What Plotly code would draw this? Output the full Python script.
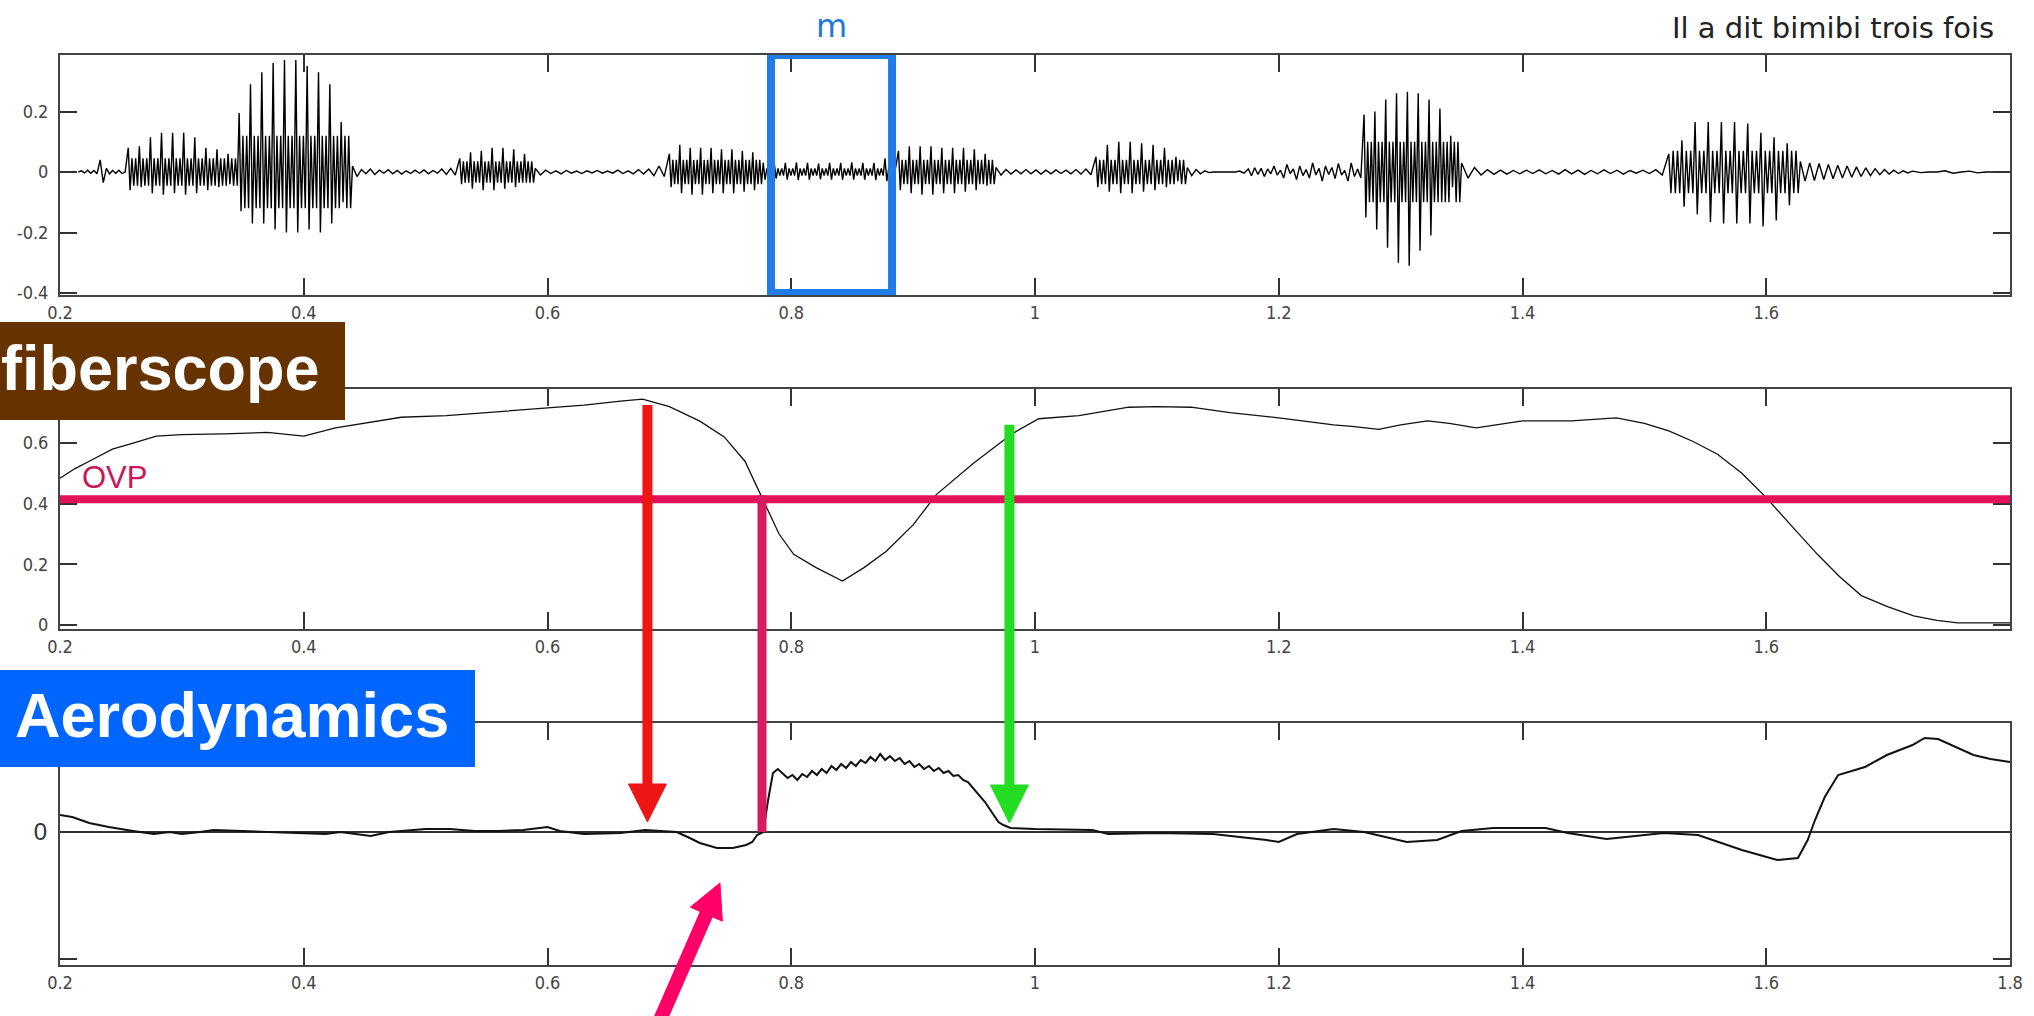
import numpy as np
import plotly.graph_objects as go

W, H = 2034, 1016

# ---------------- DATA ----------------
# Top panel: speech waveform "Il a dit bimibi trois fois" (time in s, amplitude)
# Each voiced burst: time span, positive pitch-pulse peaks, negative peaks, inner band amplitude
wave_quiet_0 = dict(t0=0.215, t1=0.256, vals=[0.0, 0.004, -0.003, 0.006, -0.004, 0.005, -0.006, 0.04,
                                             -0.035, 0.012, -0.006, 0.005, -0.004, 0.006, -0.005, 0.0])
wave_bi_1 = dict(t0=0.256, t1=0.347, pos=[0.08, 0.085, 0.115, 0.13, 0.13, 0.13, 0.115, 0.08, 0.075, 0.06],
                 neg=[-0.06, -0.05, -0.07, -0.075, -0.07, -0.075, -0.07, -0.06, -0.05, -0.04], inner=0.045)
wave_bi_2 = dict(t0=0.347, t1=0.44, pos=[0.195, 0.29, 0.33, 0.36, 0.37, 0.37, 0.35, 0.33, 0.29, 0.165],
                 neg=[-0.13, -0.17, -0.17, -0.19, -0.2, -0.2, -0.19, -0.2, -0.17, -0.1], inner=0.12)
wave_quiet_1 = dict(t0=0.44, t1=0.528, vals=[0.02, -0.015, 0.008, -0.006, 0.01, -0.008, 0.006, -0.004, 0.008,
                                            -0.006, 0.005, -0.007, 0.004, -0.005, 0.006, -0.004, 0.007, -0.006,
                                            0.005, -0.004, 0.01, -0.008, 0.012, -0.01])
wave_a = dict(t0=0.528, t1=0.59, pos=[0.045, 0.065, 0.07, 0.08, 0.08, 0.075, 0.06],
              neg=[-0.04, -0.055, -0.06, -0.06, -0.055, -0.05, -0.035], inner=0.035)
wave_quiet_2 = dict(t0=0.59, t1=0.70, vals=[0.012, -0.01, 0.006, -0.005, 0.004, -0.006, 0.005, -0.004, 0.003,
                                           -0.005, 0.004, -0.003, 0.005, -0.004, 0.003, -0.004, 0.006, -0.005,
                                           0.004, -0.006, 0.008, -0.007, 0.01, -0.012, 0.02, -0.015])
wave_dit_i = dict(t0=0.70, t1=0.777, pos=[0.06, 0.09, 0.08, 0.08, 0.08, 0.075, 0.075, 0.07, 0.065],
                  neg=[-0.05, -0.07, -0.075, -0.075, -0.07, -0.07, -0.07, -0.065, -0.06], inner=0.04)
wave_m = dict(t0=0.777, t1=0.886, pos=[0.03, 0.028, 0.03, 0.032, 0.03, 0.028, 0.03, 0.03, 0.032, 0.03, 0.03, 0.045],
              neg=[-0.025, -0.022, -0.025, -0.027, -0.025, -0.024, -0.025, -0.026, -0.025, -0.025, -0.027, -0.03],
              inner=0.012)
wave_mi = dict(t0=0.888, t1=0.968, pos=[0.07, 0.085, 0.085, 0.085, 0.08, 0.08, 0.08, 0.075, 0.06],
               neg=[-0.06, -0.07, -0.075, -0.075, -0.07, -0.07, -0.065, -0.06, -0.045], inner=0.04)
wave_quiet_3 = dict(t0=0.968, t1=1.05, vals=[0.015, -0.01, 0.008, -0.007, 0.007, -0.006, 0.008, -0.006, 0.007,
                                            -0.007, 0.006, -0.006, 0.007, -0.005, 0.006, -0.006, 0.008, -0.007,
                                            0.01, -0.009])
wave_bi_3 = dict(t0=1.05, t1=1.125, pos=[0.05, 0.09, 0.1, 0.1, 0.095, 0.09, 0.08, 0.05],
                 neg=[-0.05, -0.065, -0.07, -0.07, -0.065, -0.06, -0.05, -0.03], inner=0.04)
wave_quiet_4 = dict(t0=1.125, t1=1.175, vals=[0.015, -0.012, 0.008, -0.006, 0.004, -0.002, 0.0, 0.0, 0.0, 0.0,
                                             0.0, 0.0, 0.003, -0.004])
wave_tr = dict(t0=1.175, t1=1.27, vals=[0.01, -0.012, 0.014, -0.008, 0.012, -0.015, 0.01, -0.006, 0.02, -0.01,
                                        0.006, -0.02, 0.025, -0.005, 0.01, -0.025, 0.02, -0.012, 0.008, -0.02,
                                        0.03, -0.01, 0.012, -0.03, 0.02, -0.008, 0.015, -0.022, 0.028, -0.01,
                                        0.005, -0.03, 0.03, -0.015, 0.01, -0.02])
wave_oi = dict(t0=1.27, t1=1.35, pos=[0.19, 0.2, 0.24, 0.26, 0.265, 0.26, 0.24, 0.21, 0.12],
               neg=[-0.15, -0.19, -0.25, -0.3, -0.31, -0.26, -0.21, -0.1, -0.05], inner=0.1)
wave_quiet_5 = dict(t0=1.35, t1=1.52, vals=[0.03, -0.02, 0.015, -0.01, 0.008, -0.008, 0.006, -0.007, 0.005,
                                           -0.006, 0.006, -0.005, 0.007, -0.006, 0.005, -0.007, 0.008, -0.006,
                                           0.006, -0.008, 0.005, -0.006, 0.007, -0.005, 0.006, -0.007, 0.005,
                                           -0.004, 0.006, -0.005, 0.008, -0.01])
wave_fois = dict(t0=1.52, t1=1.628, pos=[0.06, 0.105, 0.165, 0.165, 0.165, 0.165, 0.16, 0.13, 0.115, 0.095],
                 neg=[-0.07, -0.115, -0.14, -0.165, -0.17, -0.17, -0.17, -0.18, -0.16, -0.11], inner=0.07)
wave_tail = dict(t0=1.628, t1=1.72, pos=[0.035, 0.03, 0.028, 0.025, 0.022, 0.02, 0.017, 0.014, 0.011, 0.008,
                                         0.006, 0.004],
                 neg=[-0.03, -0.028, -0.025, -0.022, -0.02, -0.017, -0.015, -0.012, -0.009, -0.007, -0.005,
                      -0.003], inner=None)
wave_quiet_6 = dict(t0=1.72, t1=1.8, vals=[0.003, -0.002, 0.0, 0.0, 0.004, -0.004, 0.0, 0.003, -0.003, 0.0, 0.0, 0.0])

wave_segments = [wave_quiet_0, wave_bi_1, wave_bi_2, wave_quiet_1, wave_a, wave_quiet_2, wave_dit_i, wave_m,
                 wave_mi, wave_quiet_3, wave_bi_3, wave_quiet_4, wave_tr, wave_oi, wave_quiet_5, wave_fois,
                 wave_tail, wave_quiet_6]

# Middle panel: fiberscope (velum opening) trace
fib_t = [0.2, 0.212, 0.224, 0.243, 0.26, 0.279, 0.30, 0.334, 0.37, 0.39, 0.40, 0.426, 0.45, 0.48, 0.517, 0.55,
         0.59, 0.63, 0.66, 0.678, 0.70, 0.725, 0.745, 0.762, 0.776, 0.79, 0.802, 0.82, 0.842, 0.86, 0.878, 0.90,
         0.919, 0.95, 0.981, 1.003, 1.036, 1.077, 1.10, 1.128, 1.16, 1.2, 1.245, 1.26, 1.282, 1.30, 1.322, 1.34,
         1.362, 1.38, 1.4, 1.44, 1.477, 1.50, 1.52, 1.54, 1.56, 1.58, 1.6, 1.62, 1.642, 1.66, 1.678, 1.70, 1.721,
         1.74, 1.757, 1.78, 1.8]
fib_v = [0.484, 0.515, 0.54, 0.58, 0.60, 0.623, 0.628, 0.63, 0.635, 0.628, 0.623, 0.65, 0.665, 0.685, 0.69, 0.70,
         0.712, 0.725, 0.738, 0.745, 0.72, 0.672, 0.62, 0.54, 0.42, 0.30, 0.233, 0.19, 0.145, 0.19, 0.243, 0.33,
         0.43, 0.535, 0.63, 0.68, 0.69, 0.718, 0.72, 0.718, 0.70, 0.683, 0.66, 0.655, 0.645, 0.66, 0.673, 0.665,
         0.65, 0.66, 0.673, 0.673, 0.683, 0.665, 0.64, 0.605, 0.563, 0.50, 0.42, 0.33, 0.233, 0.16, 0.097, 0.06,
         0.03, 0.015, 0.007, 0.007, 0.007]

# Bottom panel: aerodynamics (nasal airflow, arbitrary units)
aero_t = [0.2, 0.21, 0.224, 0.24, 0.26, 0.277, 0.29, 0.30, 0.315, 0.326, 0.35, 0.38, 0.418, 0.43, 0.455, 0.47,
          0.50, 0.52, 0.54, 0.56, 0.58, 0.60, 0.61, 0.63, 0.66, 0.68, 0.692, 0.706, 0.715, 0.725, 0.739, 0.752,
          0.763, 0.768, 0.772, 0.777, 0.781, 0.785, 0.789, 0.793, 0.797, 0.801, 0.805, 0.809, 0.813, 0.817,
          0.821, 0.825, 0.829, 0.833, 0.837, 0.841, 0.845, 0.849, 0.853, 0.857, 0.861, 0.865, 0.869, 0.873,
          0.877, 0.881, 0.885, 0.889, 0.893, 0.897, 0.901, 0.905, 0.909, 0.913, 0.917, 0.921, 0.925, 0.929,
          0.933, 0.937, 0.941, 0.945, 0.95, 0.955, 0.959, 0.965, 0.97, 0.974, 0.98, 1.0, 1.047, 1.06, 1.10,
          1.146, 1.17, 1.19, 1.20, 1.215, 1.245, 1.27, 1.305, 1.33, 1.35, 1.376, 1.419, 1.437, 1.469, 1.49,
          1.516, 1.544, 1.58, 1.609, 1.626, 1.634, 1.64, 1.648, 1.659, 1.681, 1.699, 1.72, 1.73, 1.741, 1.77,
          1.784, 1.8]
aero_v = [0.17, 0.15, 0.09, 0.05, 0.01, -0.02, 0.0, -0.02, 0.0, 0.02, 0.01, 0.0, -0.02, 0.0, -0.04, 0.0,
          0.03, 0.03, 0.01, 0.01, 0.02, 0.05, 0.01, -0.02, -0.01, 0.02, 0.01, 0.0, -0.05, -0.11, -0.16, -0.16,
          -0.13, -0.10, -0.03, 0.0, 0.32, 0.59, 0.63, 0.58, 0.54, 0.57, 0.52, 0.58, 0.55, 0.61,
          0.57, 0.63, 0.59, 0.66, 0.62, 0.68, 0.64, 0.70, 0.66, 0.72, 0.69, 0.75, 0.71, 0.78,
          0.72, 0.76, 0.71, 0.74, 0.68, 0.71, 0.65, 0.68, 0.63, 0.66, 0.61, 0.64, 0.59, 0.61,
          0.56, 0.57, 0.52, 0.50, 0.43, 0.36, 0.30, 0.19, 0.10, 0.07, 0.04, 0.03, 0.02, -0.02, -0.01,
          -0.02, -0.05, -0.08, -0.10, -0.02, 0.03, 0.0, -0.10, -0.08, 0.01, 0.04, 0.04, -0.01, -0.07, -0.04,
          -0.01, -0.03, -0.18, -0.28, -0.26, -0.08, 0.12, 0.35, 0.57, 0.65, 0.77, 0.87, 0.94, 0.93, 0.77,
          0.73, 0.70]

# Axis ticks
x_ticks = [0.2, 0.4, 0.6, 0.8, 1.0, 1.2, 1.4, 1.6, 1.8]
x_ticktext = ["0.2", "0.4", "0.6", "0.8", "1", "1.2", "1.4", "1.6", "1.8"]
wave_yticks = [-0.4, -0.2, 0, 0.2]
wave_yticktext = ["-0.4", "-0.2", "0", "0.2"]
fib_yticks = [0, 0.2, 0.4, 0.6]
fib_yticktext = ["0", "0.2", "0.4", "0.6"]

# Annotated events
OVP_LEVEL = 0.415          # velopharyngeal opening threshold (fiberscope units)
OVP_CROSS_T = 0.776        # time the velum crosses the OVP threshold
RED_T, RED_TOP, RED_TIP = 0.682, 0.725, 0.10
GREEN_T, GREEN_TOP, GREEN_TIP = 0.979, 0.66, 0.09
PINK_TIP_T, PINK_TIP_V = 0.7415, -0.51
PINK_TAIL_T, PINK_TAIL_V = 0.688, -2.0
M_BOX = (0.7834, 0.8827)

# ---------------- BUILD WAVEFORM ----------------
wave_t, wave_v = [], []
for seg in wave_segments:
    if "vals" in seg:
        vals = seg["vals"]
    else:
        vals = []
        for p, n in zip(seg["pos"], seg["neg"]):
            if seg["inner"] is None:
                vals += [p, n]
            else:
                i = seg["inner"]
                vals += [p, n, i, -i, i, -i]
    ts = np.linspace(seg["t0"], seg["t1"], len(vals), endpoint=False)
    wave_t += list(ts)
    wave_v += vals

# ---------------- LAYOUT GEOMETRY (pixels) ----------------
XL, XR = 60, 2010
XRANGE = [0.2, 1.8]
P1 = (55, 295, [-0.4066, 0.3868])     # top px, bottom px, y range
P2 = (389, 629, [-0.0132, 0.7781])
P3 = (723, 965, [-1.33, 1.09])


def fx(px):
    return px / W


def fy(py):
    return 1 - py / H


def t2px(t):
    return XL + (t - XRANGE[0]) / (XRANGE[1] - XRANGE[0]) * (XR - XL)


def v2py(v, panel):
    top, bot, rng = panel
    return bot - (v - rng[0]) / (rng[1] - rng[0]) * (bot - top)


tickfont = dict(family="Liberation Sans Narrow, DejaVu Sans Condensed, Arial Narrow, sans-serif", size=18,
                color="#444")

fig = go.Figure()
fig.add_trace(go.Scatter(x=wave_t, y=wave_v, mode="lines", line=dict(color="black", width=1.4),
                         xaxis="x", yaxis="y", hoverinfo="skip", showlegend=False))
fig.add_trace(go.Scatter(x=fib_t, y=fib_v, mode="lines", line=dict(color="#111", width=1.3),
                         xaxis="x2", yaxis="y2", hoverinfo="skip", showlegend=False))
fig.add_trace(go.Scatter(x=aero_t, y=aero_v, mode="lines", line=dict(color="#111", width=2),
                         xaxis="x3", yaxis="y3", hoverinfo="skip", showlegend=False))

axis_common = dict(showline=True, linewidth=2, linecolor="#444", mirror="ticks", ticks="inside", ticklen=17,
                   tickwidth=1.5, tickcolor="#333", showgrid=False, zeroline=False, tickfont=tickfont,
                   automargin=False)


def xax(anchor, show_18):
    vals = x_ticks if show_18 else x_ticks[:-1]
    return dict(axis_common, domain=[fx(XL), fx(XR)], range=XRANGE, anchor=anchor,
                tickmode="array", tickvals=vals, ticktext=x_ticktext[:len(vals)])


def yax(anchor, panel, tv, tt, **kw):
    top, bot, rng = panel
    d = dict(axis_common, domain=[fy(bot), fy(top)], range=rng, anchor=anchor,
             tickmode="array", tickvals=tv, ticktext=tt, ticklabelstandoff=6)
    d.update(kw)
    return d


fig.update_layout(
    width=W, height=H, autosize=False,
    margin=dict(l=0, r=0, t=0, b=0, pad=0),
    paper_bgcolor="white", plot_bgcolor="white",
    xaxis=xax("y", False),
    yaxis=yax("x", P1, wave_yticks, wave_yticktext),
    xaxis2=xax("y2", False),
    yaxis2=yax("x2", P2, fib_yticks, fib_yticktext),
    xaxis3=xax("y3", True),
    yaxis3=yax("x3", P3, [-1.27, 0], ["", "0"], zeroline=True, zerolinecolor="#333", zerolinewidth=1.5,
               tickfont=dict(family="Liberation Sans, Arial, sans-serif", size=24, color="#333")),
)

shapes = []
annotations = []

# Blue box around [m]
shapes.append(dict(type="rect", xref="x", yref="y", x0=M_BOX[0], x1=M_BOX[1], y0=-0.4, y1=0.387,
                   line=dict(color="#1f7ce8", width=8), fillcolor="rgba(0,0,0,0)"))
annotations.append(dict(text="m", xref="x", yref="paper", x=(M_BOX[0] + M_BOX[1]) / 2, y=fy(26),
                        showarrow=False, font=dict(family="DejaVu Sans, Verdana, sans-serif", size=32,
                                                   color="#1f78d6"), xanchor="center", yanchor="middle"))
# Title
annotations.append(dict(text="Il a dit bimibi trois fois", xref="paper", yref="paper", x=fx(1996), y=fy(28),
                        showarrow=False, xanchor="right", yanchor="middle",
                        font=dict(family="DejaVu Sans, Verdana, sans-serif", size=29, color="#222")))

# OVP threshold line and label
shapes.append(dict(type="line", xref="x2", yref="y2", x0=XRANGE[0], x1=XRANGE[1], y0=OVP_LEVEL, y1=OVP_LEVEL,
                   line=dict(color="#e3115a", width=8)))
annotations.append(dict(text="OVP", xref="paper", yref="paper", x=fx(80), y=fy(477), showarrow=False,
                        xanchor="left", yanchor="middle",
                        font=dict(family="Liberation Sans, Arial, sans-serif", size=31, color="#c8185a")))

# Pink vertical line from OVP crossing down to airflow zero
shapes.append(dict(type="line", xref="paper", yref="paper", x0=fx(t2px(OVP_CROSS_T)), x1=fx(t2px(OVP_CROSS_T)),
                   y0=fy(v2py(OVP_LEVEL, P2) - 4), y1=fy(v2py(0, P3)), line=dict(color="#d81b60", width=9)))


def vertical_arrow(t, top_v, top_panel, tip_v, tip_panel, color, shaft=10, head_len=38, head_half=19):
    x = t2px(t)
    y_top = v2py(top_v, top_panel)
    y_tip = v2py(tip_v, tip_panel)
    y_base = y_tip - head_len
    shapes.append(dict(type="line", xref="paper", yref="paper", x0=fx(x), x1=fx(x), y0=fy(y_top),
                       y1=fy(y_base + 2), line=dict(color=color, width=shaft)))
    path = "M {:.5f} {:.5f} L {:.5f} {:.5f} L {:.5f} {:.5f} Z".format(
        fx(x - head_half), fy(y_base), fx(x + head_half), fy(y_base), fx(x), fy(y_tip))
    shapes.append(dict(type="path", xref="paper", yref="paper", path=path, fillcolor=color,
                       line=dict(color=color, width=1)))


vertical_arrow(RED_T, RED_TOP, P2, RED_TIP, P3, "#ee1515")
vertical_arrow(GREEN_T, GREEN_TOP, P2, GREEN_TIP, P3, "#22dd22")

# Pink diagonal arrow pointing at the airflow dip
tx, ty = t2px(PINK_TIP_T), v2py(PINK_TIP_V, P3)
sx, sy = t2px(PINK_TAIL_T), v2py(PINK_TAIL_V, P3)
L = np.hypot(tx - sx, ty - sy)
ux, uy = (tx - sx) / L, (ty - sy) / L
hl, hw = 34, 17.5
bx, by = tx - hl * ux, ty - hl * uy
shapes.append(dict(type="line", xref="paper", yref="paper", x0=fx(sx), y0=fy(sy), x1=fx(bx + 2 * ux),
                   y1=fy(by + 2 * uy), line=dict(color="#ff0066", width=14)))
path = "M {:.5f} {:.5f} L {:.5f} {:.5f} L {:.5f} {:.5f} Z".format(
    fx(bx - hw * uy), fy(by + hw * ux), fx(bx + hw * uy), fy(by - hw * ux), fx(tx), fy(ty))
shapes.append(dict(type="path", xref="paper", yref="paper", path=path, fillcolor="#ff0066",
                   line=dict(color="#ff0066", width=1)))

# Section labels
shapes.append(dict(type="rect", xref="paper", yref="paper", x0=0, x1=fx(345), y0=fy(420), y1=fy(322),
                   fillcolor="#663300", line=dict(width=0)))
annotations.append(dict(text="<b>fiberscope</b>", xref="paper", yref="paper", x=fx(0), y=fy(368),
                        showarrow=False, xanchor="left", yanchor="middle", borderpad=0,
                        font=dict(family="Liberation Sans, Arial, sans-serif", size=63, color="white")))
shapes.append(dict(type="rect", xref="paper", yref="paper", x0=0, x1=fx(475), y0=fy(767), y1=fy(670),
                   fillcolor="#0066ff", line=dict(width=0)))
annotations.append(dict(text="<b>Aerodynamics</b>", xref="paper", yref="paper", x=fx(14), y=fy(715),
                        showarrow=False, xanchor="left", yanchor="middle", borderpad=0,
                        font=dict(family="Liberation Sans, Arial, sans-serif", size=63, color="white")))

fig.update_layout(shapes=shapes, annotations=annotations)
fig.write_html("out.html", config={"displayModeBar": False},
               post_script="document.body.style.margin='0px';")
